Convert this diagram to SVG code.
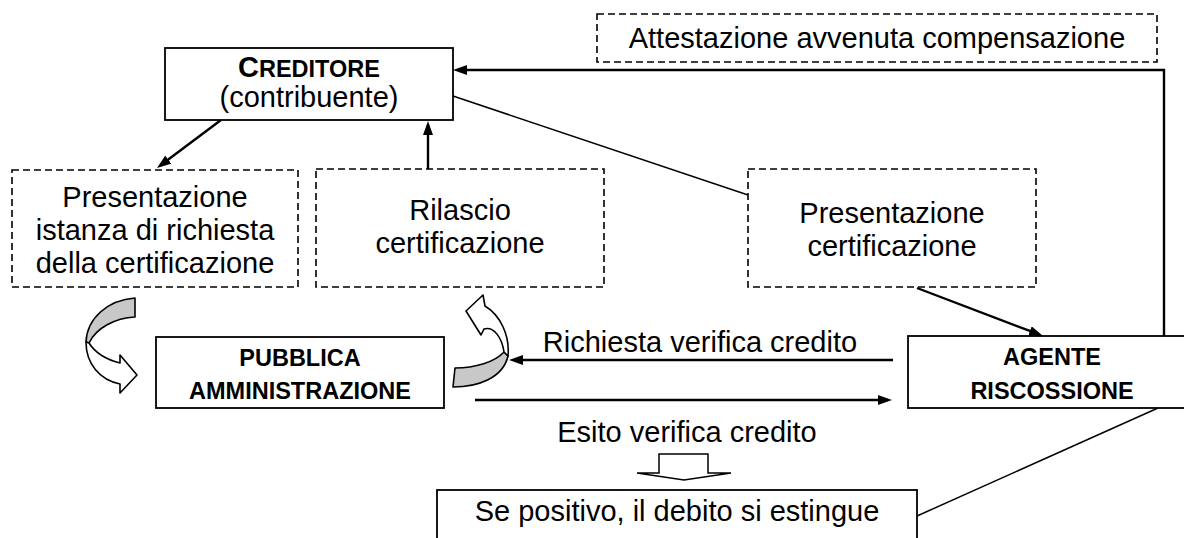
<svg xmlns="http://www.w3.org/2000/svg" width="1184" height="538" viewBox="0 0 1184 538">
<defs>
<style>
.box{fill:#fff;stroke:#000;stroke-width:1.8}
.dbox{fill:#fff;stroke:#000;stroke-width:1.6;stroke-dasharray:7,4}
.t{font-family:"Liberation Sans",Arial,sans-serif;font-size:29px;fill:#000;text-anchor:middle}
.b{font-family:"Liberation Sans",Arial,sans-serif;font-size:23.5px;font-weight:bold;fill:#000;text-anchor:middle}
.c{fill:none;stroke:#000;stroke-width:2.4}
.thin{fill:none;stroke:#000;stroke-width:1.5}
.ca{stroke:#000;stroke-width:1.6;stroke-linejoin:round}
</style>
<marker id="ah" viewBox="0 0 14 10" refX="2" refY="5" markerWidth="14" markerHeight="10" orient="auto" markerUnits="userSpaceOnUse">
<path d="M0,0 L14,5 L0,10 Z" fill="#000"/>
</marker>
</defs>
<rect width="1184" height="538" fill="#fff"/>

<g id="connectors">
<path class="c" d="M1164,336 L1164,70 L465,70" marker-end="url(#ah)"/>
<line class="thin" x1="453" y1="96" x2="748" y2="195"/>
<line class="c" x1="221" y1="120" x2="166.6" y2="160.8" marker-end="url(#ah)"/>
<line class="c" x1="428" y1="169" x2="428" y2="133" marker-end="url(#ah)"/>
<line class="c" x1="917" y1="288" x2="1031.8" y2="331.7" marker-end="url(#ah)"/>
<line class="c" x1="893" y1="360" x2="521" y2="360" marker-end="url(#ah)"/>
<line class="c" x1="475" y1="400" x2="880" y2="400" marker-end="url(#ah)"/>
<line class="thin" x1="917" y1="516" x2="1158" y2="408"/>
<text class="t" x="700" y="352">Richiesta verifica credito</text>
<text class="t" x="687" y="442">Esito verifica credito</text>
<path fill="#fff" stroke="#000" stroke-width="1.5" stroke-linejoin="miter" d="M659,454 L708,454 L708,473 L731,473 L684,480 L637,473 L659,473 Z"/>
</g>

<g id="attestazione">
<rect class="dbox" x="597" y="14" width="560" height="48"/>
<text class="t" x="877" y="48">Attestazione avvenuta compensazione</text>
</g>

<g id="creditore">
<rect class="box" x="165" y="48" width="288" height="72"/>
<text class="b" x="309" y="77"><tspan font-size="29px">C</tspan>REDITORE</text>
<text class="t" x="309" y="107">(contribuente)</text>
</g>

<g id="presentazione-istanza">
<rect class="dbox" x="12" y="170" width="286" height="117"/>
<text class="t" x="155" y="207">Presentazione</text>
<text class="t" x="155" y="240">istanza di richiesta</text>
<text class="t" x="155" y="273">della certificazione</text>
</g>

<g id="rilascio">
<rect class="dbox" x="316" y="169" width="288" height="118"/>
<text class="t" x="460" y="220">Rilascio</text>
<text class="t" x="460" y="253">certificazione</text>
</g>

<g id="presentazione-certificazione">
<rect class="dbox" x="748" y="169" width="288" height="118"/>
<text class="t" x="892" y="223">Presentazione</text>
<text class="t" x="892" y="256">certificazione</text>
</g>

<g id="pubblica-amministrazione">
<rect class="box" x="156" y="337" width="288" height="71"/>
<text class="b" x="300" y="366">PUBBLICA</text>
<text class="b" x="300" y="399">AMMINISTRAZIONE</text>
</g>

<g id="agente-riscossione">
<rect class="box" x="908" y="336" width="290" height="72"/>
<text class="b" x="1052" y="365">AGENTE</text>
<text class="b" x="1052" y="399">RISCOSSIONE</text>
</g>

<g id="curved-arrow-left">
<path class="ca" fill="#c8c8c8" d="M135,298 L135,317 C115,318 96,328 89,343 L86,342 C87,318 108,300 135,298 Z"/>
<path class="ca" fill="#fff" d="M89,343 C96,354 108,360 120,363 L120,355 L137,375 L120,393 L120,384 C100,380 86,364 86,342 Z"/>
</g>

<g id="curved-arrow-right">
<path class="ca" fill="#c8c8c8" d="M455,368 L453,387 C478,387 503,378 508,356 L504,352 C495,362 475,368 455,368 Z"/>
<path class="ca" fill="#fff" d="M483,295 L485,306 C500,315 510,335 508,356 L504,352 C502,338 494,326 484,329 L481,335 L466,311 Z"/>
</g>

<g id="esito">
<rect class="box" x="437" y="490" width="480" height="60"/>
<text class="t" x="677" y="521">Se positivo, il debito si estingue</text>
</g>
</svg>
